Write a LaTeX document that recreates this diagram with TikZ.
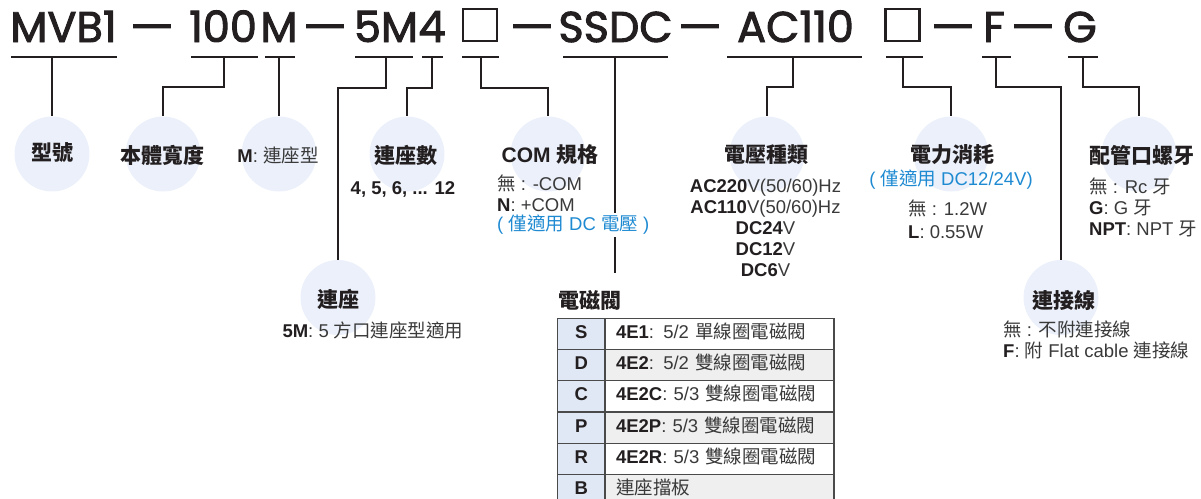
\documentclass[tikz,border=0pt]{standalone}
\usepackage{graphicx}
\usepackage{fontspec}
\setmainfont{Liberation Sans}
\newfontfamily\cjkfont{Noto Sans CJK TC}
\newfontfamily\codefont[FakeBold=2.2]{Poppins}
\usetikzlibrary{positioning,matrix}
\newcommand\zh[1]{{\cjkfont #1}}
\newcommand\codedash{\scalebox{1.6}[1]{–}}
\definecolor{inkdark}{HTML}{231F20}
\definecolor{notegray}{HTML}{3A3A3A}
\definecolor{bubblefill}{HTML}{EBF0FA}
\definecolor{noteblue}{HTML}{1E8AD2}
\definecolor{headblue}{HTML}{E1E8F5}
\definecolor{rowgray}{HTML}{EFEFEF}
\definecolor{tablegray}{HTML}{4A4A4A}
\tikzset{% looks used over and over
	bubble/.style={circle,fill=bubblefill,minimum size=75pt,inner sep=0pt},
	code/.style={font=\codefont\fontsize{43}{43}\selectfont,text=inkdark,inner sep=0pt,anchor=base},
	codebox/.style={draw=inkdark,line width=2.4pt,minimum width=34pt,minimum height=32pt,inner sep=0pt,anchor=south},
	head/.style={font=\bfseries\fontsize{21}{24}\selectfont,text=inkdark,inner sep=0pt},
	note/.style={font=\fontsize{18.5}{21}\selectfont,text=notegray,inner sep=0pt},
	bluenote/.style={note,text=noteblue},
	link/.style={draw=inkdark,line width=1.1pt}
}
\begin{document}
\begin{tikzpicture}[x=1pt,y=-1pt]
\useasboundingbox (0,0) rectangle (1201,498);
% bubbles
\node[bubble] (model) at (52,154) {};
\node[bubble] (width) at (163,154) {};
\node[bubble] (mount) at (279,154) {};
\node[bubble] (stations) at (407,154) {};
\node[bubble] (base) at (338,297.5) {};
\node[bubble] (com) at (548,154) {};
\node[bubble] (voltage) at (767,154) {};
\node[bubble] (power) at (951,154) {};
\node[bubble] (cable) at (1061,297.5) {};
\node[bubble] (port) at (1139,154) {};
% the code line
\node[code] (k-model) at (63.5,42) {MVB1};
\node[code] (k-d1) at (152,42) {\codedash};
\node[code] (k-width) at (223,42) {100};
\node[code] (k-mount) at (279,42) {M};
\node[code] (k-d2) at (325,42) {\codedash};
\node[code] (k-base) at (386,42) {5M};
\node[code] (k-stations) at (432,42) {4};
\node[codebox] (k-com) at (480,42) {};
\node[code] (k-d3) at (532,42) {\codedash};
\node[code] (k-valve) at (615.5,42) {SSDC};
\node[code] (k-d4) at (700,42) {\codedash};
\node[code] (k-voltage) at (795.5,42) {AC110};
\node[codebox] (k-power) at (902.5,42) {};
\node[code] (k-d5) at (953,42) {\codedash};
\node[code] (k-cable) at (994,42) {F};
\node[code] (k-d6) at (1033,42) {\codedash};
\node[code] (k-port) at (1080,42) {G};
% underlines
\foreach \a/\b/\m/\n in {11/117/52/model,191/258/224/width,265/295/279/mount,355/413/386/base,
	422/443/432/stations,462/499/481/com,563/668/615/valve,727/862/793/voltage,
	886/923/903/power,982/1011/996/cable,1068/1098/1083/port}{
	\draw[link] (\a,57) -- (\b,57);
	\coordinate (u-\n) at (\m,57);
}
\coordinate (valve-end) at (615,273);
% connectors
\draw[link] (u-model) -- (model.north);
\draw[link] (u-width) -- ++(0,30) -| (width.north);
\draw[link] (u-mount) -- (mount.north);
\draw[link] (u-base) -- ++(0,31) -| (base.north);
\draw[link] (u-stations) -- ++(0,31) -| (stations.north);
\draw[link] (u-com) -- ++(0,31) -| (com.north);
\draw[link] (u-valve) -- (valve-end);
\draw[link] (u-voltage) -- ++(0,30) -| (voltage.north);
\draw[link] (u-power) -- ++(0,30) -| (power.north);
\draw[link] (u-cable) -- ++(0,30) -| (cable.north);
\draw[link] (u-port) -- ++(0,30) -| (port.north);
% labels
\node[head] (model-l) at (52,153) {\zh{型號}};
\node[head] (width-l) at (162,155) {\zh{本體寬度}};
\node[note] (mount-l) at (278,155) {\textbf{\color{inkdark}M}: \zh{連座型}};
\node[head] (stations-l) at (406,155) {\zh{連座數}};
\node[note,text=inkdark] (stations-n) at (403,189) {\textbf{4, 5, 6, ... 12}};
\node[head] (base-l) at (338,299) {\zh{連座}};
\node[note] (base-n) at (373,330) {\textbf{\color{inkdark}5M}: 5 \zh{方口連座型適用}};
\node[head] (com-l) at (550,155) {COM \zh{規格}};
\node[note,anchor=west,align=left] (com-n) at (497,193.5) {\zh{無} : -COM\\\textbf{\color{inkdark}N}: +COM};
\node[bluenote,anchor=west,fill=white,inner ysep=2pt] (com-b) at (497,225) {( \zh{僅適用} DC \zh{電壓} )};
\node[head] (voltage-l) at (766,155) {\zh{電壓種類}};
\node[note,align=center] (voltage-n) at (765.5,228) {\textbf{\color{inkdark}AC220}V(50/60)Hz\\\textbf{\color{inkdark}AC110}V(50/60)Hz\\
	\textbf{\color{inkdark}DC24}V\\\textbf{\color{inkdark}DC12}V\\\textbf{\color{inkdark}DC6}V};
\node[head] (power-l) at (952,155) {\zh{電力消耗}};
\node[bluenote] (power-b) at (951,180) {( \zh{僅適用} DC12/24V)};
\node[note,anchor=west,align=left,font=\fontsize{18.5}{23}\selectfont] (power-n) at (908,219.5) {\zh{無} : 1.2W\\\textbf{\color{inkdark}L}: 0.55W};
\node[head,anchor=west] (port-l) at (1089,155) {\zh{配管口螺牙}};
\node[note,anchor=west,align=left] (port-n) at (1089,207) {\zh{無} : Rc \zh{牙}\\\textbf{\color{inkdark}G}: G \zh{牙}\\\textbf{\color{inkdark}NPT}: NPT \zh{牙}};
\node[head] (cable-l) at (1064,300) {\zh{連接線}};
\node[note,anchor=west,align=left,font=\fontsize{18.5}{20.5}\selectfont] (cable-n) at (1003,340) {\zh{無} : \zh{不附連接線}\\\textbf{\color{inkdark}F}: \zh{附} Flat cable \zh{連接線}};
% valve table
\node[head,anchor=west] (valve-l) at (558,300) {\zh{電磁閥}};
\matrix (valves) [matrix of nodes,ampersand replacement=\&,anchor=north west,inner sep=0pt,
	column sep=-1.2pt,row sep=-1.2pt,
	nodes={draw=tablegray,line width=1.2pt,minimum height=31.2pt,inner sep=0pt,text height=13pt,text depth=4pt,
		font=\fontsize{18.5}{21}\selectfont,text=notegray},
	column 1/.style={nodes={fill=headblue,minimum width=47.2pt,font=\bfseries\fontsize{18.5}{21}\selectfont,text=inkdark}},
	column 2/.style={nodes={fill=white,text width=207pt,inner xsep=11pt,align=left}},
	row 2 column 2/.style={nodes={fill=rowgray}},
	row 4 column 2/.style={nodes={fill=rowgray}},
	row 6 column 2/.style={nodes={fill=rowgray}}
] at (557,317.5) {
	S \& \textbf{\color{inkdark}4E1}: 5/2 \zh{單線圈電磁閥}\\
	D \& \textbf{\color{inkdark}4E2}: 5/2 \zh{雙線圈電磁閥}\\
	C \& \textbf{\color{inkdark}4E2C}: 5/3 \zh{雙線圈電磁閥}\\
	P \& \textbf{\color{inkdark}4E2P}: 5/3 \zh{雙線圈電磁閥}\\
	R \& \textbf{\color{inkdark}4E2R}: 5/3 \zh{雙線圈電磁閥}\\
	B \& \zh{連座擋板}\\
};
\end{tikzpicture}
\end{document}
